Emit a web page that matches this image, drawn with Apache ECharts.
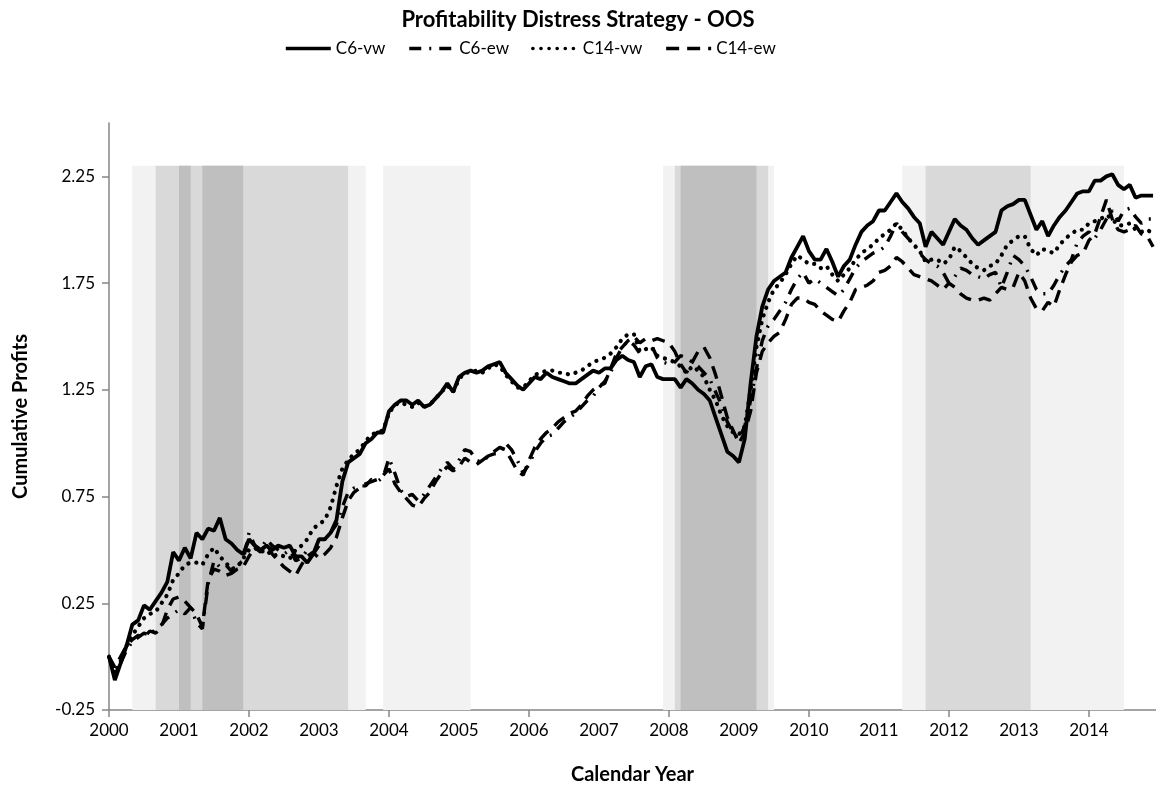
<!DOCTYPE html>
<html>
<head>
<meta charset="utf-8">
<script src="https://cdn.jsdelivr.net/npm/echarts@6/dist/echarts.min.js"></script>
<style>
html, body { margin: 0; padding: 0; background: #fff; }
#chart { width: 1156px; height: 787px; }
</style>
</head>
<body>
<div id="chart"></div>
<script>
// monthly cumulative profits, Jan 2000 .. Dec 2014 (index = months since Jan 2000)
const startYear = 2000;

const c6vw = [
  0.00, -0.11, -0.03, 0.05, 0.15, 0.17, 0.24, 0.22, 0.26, 0.30, 0.35, 0.49,
  0.45, 0.51, 0.46, 0.58, 0.55, 0.60, 0.59, 0.65, 0.55, 0.53, 0.50, 0.48,
  0.55, 0.52, 0.50, 0.52, 0.50, 0.52, 0.51, 0.52, 0.47, 0.47, 0.44, 0.48,
  0.55, 0.55, 0.58, 0.64, 0.82, 0.91, 0.93, 0.95, 1.00, 1.02, 1.05, 1.05,
  1.15, 1.18, 1.20, 1.20, 1.18, 1.20, 1.17, 1.18, 1.21, 1.24, 1.28, 1.24,
  1.31, 1.33, 1.34, 1.33, 1.34, 1.36, 1.37, 1.38, 1.33, 1.30, 1.27, 1.25,
  1.28, 1.31, 1.30, 1.33, 1.31, 1.30, 1.29, 1.28, 1.28, 1.30, 1.32, 1.34,
  1.33, 1.35, 1.35, 1.39, 1.41, 1.39, 1.38, 1.31, 1.36, 1.37, 1.31, 1.30,
  1.30, 1.30, 1.26, 1.30, 1.28, 1.25, 1.23, 1.20, 1.12, 1.04, 0.96, 0.94,
  0.91, 1.02, 1.28, 1.50, 1.64, 1.72, 1.76, 1.78, 1.80, 1.87, 1.92, 1.97,
  1.90, 1.86, 1.86, 1.91, 1.85, 1.78, 1.83, 1.86, 1.93, 1.99, 2.02, 2.04,
  2.09, 2.09, 2.13, 2.17, 2.13, 2.10, 2.06, 2.03, 1.92, 1.99, 1.96, 1.93,
  1.99, 2.05, 2.02, 2.00, 1.96, 1.93, 1.95, 1.97, 1.99, 2.09, 2.11, 2.12,
  2.14, 2.14, 2.07, 2.00, 2.04, 1.97, 2.02, 2.06, 2.09, 2.13, 2.17, 2.18,
  2.18, 2.23, 2.23, 2.25, 2.26, 2.21, 2.19, 2.21, 2.15, 2.16, 2.16, 2.16
];

const c6ew = [
  0.00, -0.08, -0.03, 0.03, 0.07, 0.09, 0.11, 0.10, 0.13, 0.15, 0.18, 0.20,
  0.22, 0.20, 0.23, 0.16, 0.13, 0.34, 0.45, 0.42, 0.43, 0.40, 0.43, 0.45,
  0.58, 0.52, 0.50, 0.55, 0.52, 0.50, 0.48, 0.50, 0.45, 0.46, 0.50, 0.48,
  0.52, 0.55, 0.58, 0.62, 0.70, 0.77, 0.79, 0.80, 0.80, 0.83, 0.82, 0.84,
  0.93, 0.86, 0.78, 0.75, 0.76, 0.73, 0.76, 0.80, 0.84, 0.88, 0.91, 0.88,
  0.92, 0.97, 0.96, 0.92, 0.91, 0.94, 0.95, 0.95, 1.00, 0.97, 0.92, 0.86,
  0.90, 0.96, 1.00, 1.03, 1.04, 1.07, 1.10, 1.12, 1.14, 1.17, 1.20, 1.22,
  1.26, 1.29, 1.33, 1.40, 1.45, 1.48, 1.46, 1.42, 1.44, 1.46, 1.40, 1.38,
  1.37, 1.38, 1.41, 1.40, 1.38, 1.36, 1.33, 1.30, 1.24, 1.18, 1.10, 1.05,
  1.02, 1.08, 1.20, 1.35, 1.48, 1.55, 1.58, 1.62, 1.66, 1.72, 1.77, 1.80,
  1.75, 1.77, 1.75, 1.73, 1.71, 1.69, 1.72, 1.77, 1.82, 1.85, 1.87, 1.89,
  1.90, 1.92, 1.97, 2.03, 1.99, 1.96, 1.93, 1.89, 1.86, 1.84, 1.83, 1.80,
  1.75, 1.78, 1.82, 1.81, 1.79, 1.78, 1.77, 1.79, 1.80, 1.73, 1.80, 1.88,
  1.86, 1.83, 1.78, 1.72, 1.70, 1.70, 1.74, 1.79, 1.83, 1.86, 1.94, 1.97,
  1.99, 1.96, 2.00, 2.05, 2.09, 2.04, 2.09, 2.10, 2.06, 2.03, 2.05, 2.05
];

const c14vw = [
  0.00, -0.08, -0.02, 0.05, 0.10, 0.14, 0.18, 0.20, 0.21, 0.25, 0.29, 0.36,
  0.39, 0.43, 0.44, 0.44, 0.43, 0.48, 0.51, 0.47, 0.44, 0.41, 0.42, 0.46,
  0.50, 0.51, 0.49, 0.50, 0.47, 0.48, 0.47, 0.46, 0.50, 0.52, 0.55, 0.60,
  0.62, 0.64, 0.70, 0.80, 0.88, 0.92, 0.95, 0.97, 1.01, 1.04, 1.05, 1.06,
  1.14, 1.18, 1.19, 1.18, 1.17, 1.19, 1.17, 1.18, 1.21, 1.24, 1.27, 1.24,
  1.30, 1.33, 1.33, 1.34, 1.33, 1.35, 1.37, 1.36, 1.32, 1.29, 1.26, 1.26,
  1.29, 1.32, 1.33, 1.34, 1.34, 1.33, 1.33, 1.32, 1.33, 1.34, 1.36, 1.38,
  1.39, 1.40, 1.42, 1.45, 1.49, 1.51, 1.51, 1.43, 1.44, 1.45, 1.41, 1.40,
  1.39, 1.38, 1.36, 1.33, 1.36, 1.34, 1.31, 1.25, 1.20, 1.13, 1.08, 1.05,
  1.04, 1.08, 1.25, 1.45, 1.58, 1.66, 1.72, 1.75, 1.79, 1.84, 1.88, 1.86,
  1.84, 1.84, 1.82, 1.83, 1.79, 1.76, 1.79, 1.82, 1.86, 1.89, 1.91, 1.93,
  1.96, 1.98, 2.00, 2.03, 2.00, 1.96, 1.93, 1.90, 1.85, 1.86, 1.86, 1.84,
  1.86, 1.92, 1.90, 1.87, 1.84, 1.82, 1.81, 1.83, 1.84, 1.88, 1.93, 1.95,
  1.97, 1.97, 1.91, 1.88, 1.91, 1.90, 1.89, 1.93, 1.96, 1.98, 2.00, 2.00,
  2.03, 2.04, 2.05, 2.07, 2.05, 2.02, 2.02, 2.03, 2.00, 1.99, 2.00, 1.98
];

const c14ew = [
  0.00, -0.05, 0.00, 0.05, 0.08, 0.10, 0.09, 0.12, 0.11, 0.14, 0.22, 0.27,
  0.28, 0.26, 0.23, 0.20, 0.14, 0.36, 0.41, 0.40, 0.38, 0.39, 0.41, 0.42,
  0.47, 0.51, 0.49, 0.53, 0.48, 0.45, 0.42, 0.40, 0.38, 0.43, 0.47, 0.49,
  0.46, 0.48, 0.51, 0.56, 0.65, 0.73, 0.77, 0.79, 0.81, 0.82, 0.83, 0.85,
  0.88, 0.81, 0.77, 0.74, 0.71, 0.70, 0.74, 0.77, 0.82, 0.86, 0.89, 0.87,
  0.89, 0.93, 0.91, 0.90, 0.92, 0.94, 0.96, 0.98, 0.97, 0.92, 0.87, 0.85,
  0.92, 0.98, 1.02, 1.05, 1.07, 1.10, 1.12, 1.14, 1.15, 1.18, 1.22, 1.25,
  1.27, 1.28, 1.35, 1.42, 1.45, 1.48, 1.50, 1.47, 1.49, 1.48, 1.49, 1.48,
  1.47, 1.43, 1.37, 1.33, 1.38, 1.43, 1.45, 1.40, 1.32, 1.22, 1.12, 1.06,
  1.00, 1.05, 1.15, 1.33, 1.43, 1.47, 1.50, 1.52, 1.58, 1.65, 1.68, 1.68,
  1.66, 1.65, 1.62, 1.60, 1.58, 1.57, 1.62, 1.66, 1.72, 1.73, 1.74, 1.76,
  1.80, 1.81, 1.83, 1.87, 1.85, 1.82, 1.79, 1.78, 1.77, 1.76, 1.74, 1.72,
  1.75, 1.73, 1.70, 1.68, 1.67, 1.67, 1.68, 1.67, 1.70, 1.73, 1.72, 1.73,
  1.80, 1.76, 1.68, 1.63, 1.62, 1.66, 1.64, 1.72, 1.79, 1.85, 1.88, 1.89,
  1.95, 1.98, 2.06, 2.14, 2.05, 2.00, 1.99, 2.00, 2.02, 1.98, 1.97, 1.92
];

const seriesNames = ['C6-vw', 'C6-ew', 'C14-vw', 'C14-ew'];
const yearLabels = [2000, 2001, 2002, 2003, 2004, 2005, 2006, 2007, 2008, 2009, 2010, 2011, 2012, 2013, 2014];
const yearTicks = [2000, 2002, 2004, 2006, 2008, 2010, 2012, 2014];
const yLabels = [-0.25, 0.25, 0.75, 1.25, 1.75, 2.25];

// shaded periods, [start month, end month] since Jan 2000
const shadeLight = [[4, 44], [47, 62], [95, 114], [136, 174]];
const shadeMid = [[8, 41], [97, 113], [140, 158]];
const shadeDark = [[12, 14], [16, 23], [98, 111]];
const shadeTop = 2.3;

const toMonth = y => (y - startYear) * 12;
const toPairs = arr => arr.map((v, i) => [i, v]);

function bands(list, color) {
  return list.map(b => [
    { xAxis: b[0], yAxis: -0.25, itemStyle: { color: color } },
    { xAxis: b[1], yAxis: shadeTop }
  ]);
}

const font = 'Lato, "Open Sans", sans-serif';
const axisGrey = '#868686';

const styles = [
  { width: 3.8, type: 'solid' },
  { width: 3.4, type: [12, 8, 2, 8], cap: 'butt' },
  { width: 4.2, type: [0.1, 8], cap: 'round' },
  { width: 3.4, type: [13, 8] }
];
const values = [c6vw, c6ew, c14vw, c14ew];

const series = seriesNames.map((name, k) => ({
  name: name,
  type: 'line',
  data: toPairs(values[k]),
  symbol: 'none',
  smooth: false,
  lineStyle: Object.assign({ color: '#000' }, styles[k]),
  itemStyle: { color: '#000' },
  z: 3 + k
}));

series[0].markArea = {
  silent: true,
  z: 1,
  label: { show: false },
  data: [].concat(
    bands(shadeLight, '#f2f2f2'),
    bands(shadeMid, '#d9d9d9'),
    bands(shadeDark, '#bfbfbf')
  )
};

const chart = echarts.init(document.getElementById('chart'));
chart.setOption({
  animation: false,
  backgroundColor: '#fff',
  textStyle: { fontFamily: font },
  title: {
    text: 'Profitability Distress Strategy - OOS',
    left: 'center',
    top: 4,
    textStyle: { fontFamily: font, fontSize: 22, fontWeight: 'bold', color: '#000' }
  },
  legend: {
    data: seriesNames,
    top: 35,
    left: 279,
    itemWidth: 45,
    itemHeight: 12,
    itemGap: 22,
    itemStyle: { opacity: 0 },
    lineStyle: { width: 3.6 },
    textStyle: { fontFamily: font, fontSize: 17, color: '#000' }
  },
  grid: { left: 109, right: 0, top: 123, bottom: 77, containLabel: false, outerBoundsMode: 'none' },
  xAxis: {
    type: 'value',
    min: 0,
    max: 179.5,
    name: 'Calendar Year',
    nameLocation: 'middle',
    nameGap: 55,
    nameTextStyle: { fontFamily: font, fontSize: 20, fontWeight: 'bold', color: '#000' },
    axisLine: { onZero: false, lineStyle: { color: axisGrey, width: 1.5 } },
    axisTick: { customValues: yearTicks.map(toMonth), length: 7, lineStyle: { color: axisGrey, width: 1.5 } },
    axisLabel: {
      customValues: yearLabels.map(toMonth),
      formatter: v => String(startYear + Math.round(v / 12)),
      fontFamily: font, fontSize: 17, color: '#000', margin: 12
    },
    splitLine: { show: false }
  },
  yAxis: {
    type: 'value',
    min: -0.25,
    max: 2.5,
    name: 'Cumulative Profits',
    nameLocation: 'middle',
    nameGap: 78,
    nameRotate: 90,
    nameTextStyle: { fontFamily: font, fontSize: 20, fontWeight: 'bold', color: '#000' },
    axisLine: { show: true, lineStyle: { color: axisGrey, width: 1.5 } },
    axisTick: { show: true, customValues: yLabels, length: 7, lineStyle: { color: axisGrey, width: 1.5 } },
    axisLabel: {
      customValues: yLabels,
      formatter: v => v.toFixed(2),
      fontFamily: font, fontSize: 17, color: '#000', margin: 14
    },
    splitLine: { show: false }
  },
  series: series
});
</script>
</body>
</html>
